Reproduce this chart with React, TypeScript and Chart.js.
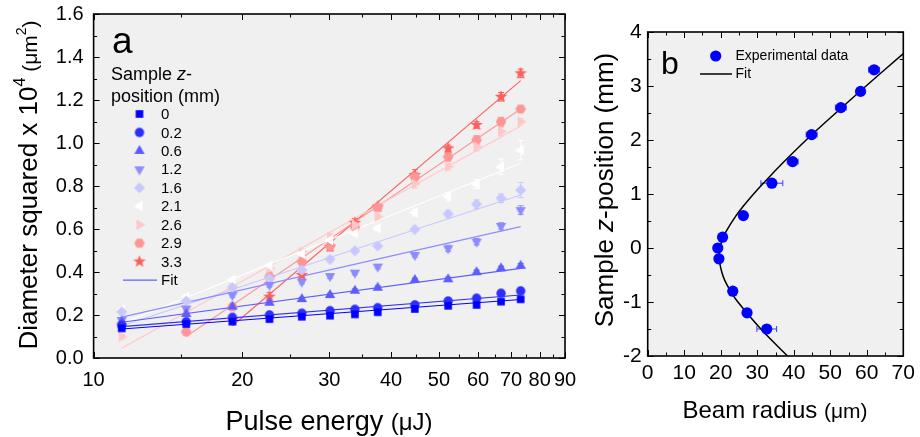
import React, { useEffect, useRef } from "react";
import { Chart, registerables } from "chart.js";
Chart.register(...registerables);

const FONT = 'Arial, "Liberation Sans", sans-serif';

// ---------- Panel a data ----------
const pulseEnergy = [11.4, 15.4, 19.1, 22.7, 26.4, 30.1, 33.8, 37.6, 44.7, 52.2, 59.6, 66.8, 73.2];
const zLabels = ["0", "0.2", "0.6", "1.2", "1.6", "2.1", "2.6", "2.9", "3.3"];
const d2_z00 = [0.138, 0.158, 0.169, 0.181, 0.192, 0.197, 0.203, 0.213, 0.228, 0.243, 0.247, 0.262, 0.273];
const d2_z02 = [0.152, 0.169, 0.189, 0.2, 0.208, 0.22, 0.226, 0.234, 0.247, 0.265, 0.278, 0.301, 0.312];
const d2_z06 = [0.17, 0.205, 0.239, 0.257, 0.274, 0.293, 0.313, 0.327, 0.363, 0.366, 0.399, 0.417, 0.429];
const d2_z12 = [0.177, 0.23, 0.293, 0.34, 0.355, 0.381, 0.397, 0.425, 0.479, 0.51, 0.541, 0.614, 0.688];
const d2_z16 = [0.215, 0.265, 0.328, 0.37, 0.409, 0.459, 0.499, 0.521, 0.598, 0.67, 0.715, 0.743, 0.781];
const d2_z21 = [0.225, 0.285, 0.363, 0.43, 0.485, 0.549, 0.58, 0.603, 0.676, 0.75, 0.809, 0.89, 0.967];
const d2_z26 = [0.099, 0.223, 0.329, 0.417, 0.494, 0.564, 0.62, 0.657, 0.81, 0.89, 0.983, 1.053, 1.099];
const d2_z29 = [null, 0.122, 0.238, 0.378, 0.448, 0.52, 0.61, 0.7, 0.843, 0.936, 1.014, 1.099, 1.158];
const d2_z33 = [null, null, 0.177, 0.285, 0.386, 0.518, 0.629, 0.704, 0.851, 0.975, 1.084, 1.215, 1.324];

const err_z00 = [0.005, 0.005, 0.005, 0.005, 0.005, 0.005, 0.005, 0.005, 0.005, 0.005, 0.005, 0.005, 0.005];
const err_z02 = [0.006, 0.006, 0.006, 0.006, 0.006, 0.006, 0.006, 0.006, 0.006, 0.006, 0.006, 0.006, 0.006];
const err_z06 = [0.008, 0.008, 0.008, 0.008, 0.008, 0.008, 0.008, 0.008, 0.008, 0.01, 0.01, 0.01, 0.01];
const err_z12 = [0.01, 0.01, 0.01, 0.01, 0.01, 0.01, 0.01, 0.01, 0.01, 0.015, 0.015, 0.015, 0.02];
const err_z16 = [0.01, 0.01, 0.01, 0.01, 0.01, 0.01, 0.01, 0.01, 0.01, 0.015, 0.02, 0.02, 0.035];
const err_z21 = [0.01, 0.01, 0.01, 0.01, 0.01, 0.01, 0.01, 0.01, 0.015, 0.02, 0.02, 0.035, 0.045];
const err_z26 = [0.01, 0.01, 0.01, 0.015, 0.015, 0.015, 0.015, 0.01, 0.02, 0.015, 0.02, 0.02, 0.015];
const err_z29 = [null, 0.01, 0.01, 0.02, 0.02, 0.02, 0.02, 0.01, 0.02, 0.02, 0.02, 0.02, 0.01];
const err_z33 = [null, null, 0.015, 0.02, 0.015, 0.02, 0.02, 0.01, 0.025, 0.015, 0.015, 0.02, 0.02];

// fit lines (straight on the log-energy axis): start/end energy and value
const fitFromEnergy = [11.4, 11.4, 11.4, 11.4, 11.4, 11.4, 11.4, 15.4, 19.1];
const fitToEnergy = [73.2, 73.2, 73.2, 73.2, 73.2, 73.2, 73.2, 73.2, 73.2];
const fitStartD2 = [0.135, 0.146, 0.166, 0.19, 0.15, 0.16, 0.045, 0.1, 0.15];
const fitEndD2 = [0.272, 0.293, 0.417, 0.611, 0.758, 0.906, 1.079, 1.158, 1.29];

const xTicksA = [10, 20, 30, 40, 50, 60, 70, 80, 90];
const xMinorA = [15, 25, 35, 45, 55, 65, 75, 85];

// ---------- Panel b data ----------
const zSample = [3.3, 2.9, 2.6, 2.1, 1.6, 1.2, 0.6, 0.2, 0, -0.2, -0.8, -1.2, -1.5];
const beamRadius = [62.0, 58.3, 52.9, 44.9, 39.7, 34.0, 26.2, 20.5, 19.2, 19.5, 23.3, 27.2, 32.6];
const beamRadiusErr = [1.5, 1.0, 1.5, 1.5, 1.5, 3.0, 0.5, 0.5, 0.5, 0.5, 0.5, 0.5, 2.7];
const fitZ = [-2, -1.5, -1.0, -0.8, -0.6, -0.45, -0.3, -0.16, 0, 0.15, 0.3, 0.6, 0.8, 1.0, 1.25, 1.5, 2.0, 2.5, 3.0, 3.6];
const fitRadius = [38.3, 31.0, 24.7, 22.7, 21.1, 20.3, 19.8, 19.6, 19.8, 20.4, 21.4, 24.2, 26.5, 29.0, 32.4, 35.9, 43.4, 51.5, 59.8, 70.0];

// ---------- styles ----------
const seriesColors = ["#0000ff", "#2e2eff", "#5c5cff", "#8c8cff", "#c8c8ff", "#ffffff", "#ffc8c8", "#ff9696", "#ff5e5e"];
const seriesShapes = ["square", "circle", "triUp", "triDown", "diamond", "triLeft", "triRight", "hexagon", "star"];
const PLOT_BG = "#f0f0f0";

function makeMarker(shape: string, color: string): HTMLCanvasElement {
  const s = 16;
  const c = document.createElement("canvas");
  c.width = s;
  c.height = s;
  const g = c.getContext("2d")!;
  const m = s / 2;
  g.fillStyle = color;
  g.beginPath();
  const poly = (pts: number[][]) => {
    pts.forEach(([x, y], i) => (i ? g.lineTo(m + x, m + y) : g.moveTo(m + x, m + y)));
    g.closePath();
  };
  const reg = (n: number, r: number, a0: number) =>
    Array.from({ length: n }, (_, i) => [r * Math.cos(a0 + (i * 2 * Math.PI) / n), r * Math.sin(a0 + (i * 2 * Math.PI) / n)]);
  switch (shape) {
    case "square":
      g.rect(m - 3.8, m - 3.8, 7.6, 7.6);
      break;
    case "circle":
      g.arc(m, m, 4.7, 0, 2 * Math.PI);
      break;
    case "triUp":
      poly(reg(3, 6, -Math.PI / 2));
      break;
    case "triDown":
      poly(reg(3, 6, Math.PI / 2));
      break;
    case "triLeft":
      poly(reg(3, 6, Math.PI));
      break;
    case "triRight":
      poly(reg(3, 6, 0));
      break;
    case "diamond":
      poly(reg(4, 5.6, -Math.PI / 2));
      break;
    case "hexagon":
      poly(reg(6, 5.3, 0));
      break;
    case "star": {
      const pts: number[][] = [];
      for (let i = 0; i < 10; i++) {
        const r = i % 2 === 0 ? 6.6 : 2.8;
        const a = -Math.PI / 2 + (i * Math.PI) / 5;
        pts.push([r * Math.cos(a), r * Math.sin(a)]);
      }
      poly(pts);
      break;
    }
  }
  g.fill();
  return c;
}

type Part = { t: string; size: number; italic?: boolean; dy?: number };

function drawRich(ctx: CanvasRenderingContext2D, parts: Part[], cx: number, cy: number, rotate: boolean) {
  ctx.save();
  let total = 0;
  const widths = parts.map((p) => {
    ctx.font = `${p.italic ? "italic " : ""}${p.size}px ${FONT}`;
    const w = ctx.measureText(p.t).width;
    total += w;
    return w;
  });
  ctx.translate(cx, cy);
  if (rotate) ctx.rotate(-Math.PI / 2);
  ctx.fillStyle = "#000";
  ctx.textBaseline = "alphabetic";
  ctx.textAlign = "left";
  let x = -total / 2;
  parts.forEach((p, i) => {
    ctx.font = `${p.italic ? "italic " : ""}${p.size}px ${FONT}`;
    ctx.fillText(p.t, x, p.dy || 0);
    x += widths[i];
  });
  ctx.restore();
}

function drawFrame(chart: any, xMajor: number[], xMinor: number[], yMajor: number[], yMinor: number[]) {
  const { ctx, chartArea } = chart;
  const { left, right, top, bottom } = chartArea;
  const xs = chart.scales.x;
  const ys = chart.scales.y;
  ctx.save();
  ctx.strokeStyle = "#000";
  ctx.lineWidth = 1;
  ctx.beginPath();
  const tick = (v: number, len: number, horiz: boolean) => {
    if (horiz) {
      const p = Math.round(xs.getPixelForValue(v)) + 0.5;
      ctx.moveTo(p, bottom);
      ctx.lineTo(p, bottom - len);
      ctx.moveTo(p, top);
      ctx.lineTo(p, top + len);
    } else {
      const p = Math.round(ys.getPixelForValue(v)) + 0.5;
      ctx.moveTo(left, p);
      ctx.lineTo(left + len, p);
      ctx.moveTo(right, p);
      ctx.lineTo(right - len, p);
    }
  };
  xMajor.forEach((v) => tick(v, 6, true));
  xMinor.forEach((v) => tick(v, 3.5, true));
  yMajor.forEach((v) => tick(v, 6, false));
  yMinor.forEach((v) => tick(v, 3.5, false));
  ctx.stroke();
  ctx.lineWidth = 1.6;
  ctx.strokeRect(left, top, right - left, bottom - top);
  ctx.restore();
}

function drawErrorBars(chart: any, vertical: boolean, capColor?: string) {
  const ctx = chart.ctx;
  ctx.save();
  ctx.lineWidth = 1;
  chart.data.datasets.forEach((ds: any, di: number) => {
    if (!ds.hasErr) return;
    const meta = chart.getDatasetMeta(di);
    ctx.strokeStyle = capColor || ds.errColor;
    ctx.beginPath();
    ds.data.forEach((pt: any, i: number) => {
      const el = meta.data[i];
      if (!el || pt.e == null) return;
      if (vertical) {
        const y1 = chart.scales.y.getPixelForValue(pt.y - pt.e);
        const y2 = chart.scales.y.getPixelForValue(pt.y + pt.e);
        ctx.moveTo(el.x, y1);
        ctx.lineTo(el.x, y2);
        ctx.moveTo(el.x - 3, y1);
        ctx.lineTo(el.x + 3, y1);
        ctx.moveTo(el.x - 3, y2);
        ctx.lineTo(el.x + 3, y2);
      } else {
        const x1 = chart.scales.x.getPixelForValue(pt.x - pt.e);
        const x2 = chart.scales.x.getPixelForValue(pt.x + pt.e);
        ctx.moveTo(x1, el.y);
        ctx.lineTo(x2, el.y);
        ctx.moveTo(x1, el.y - 3);
        ctx.lineTo(x1, el.y + 3);
        ctx.moveTo(x2, el.y - 3);
        ctx.lineTo(x2, el.y + 3);
      }
    });
    ctx.stroke();
  });
  ctx.restore();
}

const range = (a: number, b: number, step: number) => {
  const out: number[] = [];
  for (let v = a; v <= b + 1e-9; v += step) out.push(Math.round(v * 1000) / 1000);
  return out;
};

function PanelA() {
  const ref = useRef<HTMLCanvasElement>(null);
  useEffect(() => {
    const seriesVals = [d2_z00, d2_z02, d2_z06, d2_z12, d2_z16, d2_z21, d2_z26, d2_z29, d2_z33];
    const seriesErr = [err_z00, err_z02, err_z06, err_z12, err_z16, err_z21, err_z26, err_z29, err_z33];
    const markers = seriesShapes.map((s, i) => makeMarker(s, seriesColors[i]));
    const pointSets = seriesVals.map((vals, si) => ({
      label: zLabels[si],
      data: pulseEnergy
        .map((e, i) => ({ x: e, y: vals[i], e: seriesErr[si][i] }))
        .filter((p) => p.y != null),
      pointStyle: markers[si],
      pointRadius: 6,
      pointBorderWidth: 0,
      backgroundColor: seriesColors[si],
      borderColor: seriesColors[si],
      showLine: false,
      hasErr: true,
      errColor: seriesColors[si],
      order: 0,
    }));
    const fitSets = zLabels.map((lab, si) => ({
      label: "Fit " + lab,
      data: [
        { x: fitFromEnergy[si], y: fitStartD2[si] },
        { x: fitToEnergy[si], y: fitEndD2[si] },
      ],
      showLine: true,
      pointRadius: 0,
      borderWidth: 1.1,
      borderColor: seriesColors[si],
      backgroundColor: seriesColors[si],
      order: 1,
    }));
    const yMajor = range(0, 1.6, 0.2);
    const yMinor = range(0.1, 1.5, 0.2);
    const plugin = {
      id: "panelA",
      beforeDraw(chart: any) {
        const { ctx, chartArea: a } = chart;
        ctx.save();
        ctx.fillStyle = PLOT_BG;
        ctx.fillRect(a.left, a.top, a.right - a.left, a.bottom - a.top);
        ctx.restore();
      },
      beforeDatasetsDraw(chart: any) {
        const a = chart.chartArea;
        chart.ctx.save();
        chart.ctx.beginPath();
        chart.ctx.rect(a.left, a.top, a.right - a.left, a.bottom - a.top);
        chart.ctx.clip();
        drawErrorBars(chart, true);
        chart.ctx.restore();
      },
      afterDatasetsDraw(chart: any) {
        drawFrame(chart, xTicksA, xMinorA, yMajor, yMinor);
      },
      afterDraw(chart: any) {
        const ctx = chart.ctx;
        ctx.save();
        ctx.fillStyle = "#000";
        ctx.textAlign = "left";
        ctx.textBaseline = "alphabetic";
        ctx.font = `37px ${FONT}`;
        ctx.fillText("a", 112, 53);
        // legend title
        ctx.font = `18px ${FONT}`;
        let x = 111;
        ctx.fillText("Sample ", x, 80);
        x += ctx.measureText("Sample ").width;
        ctx.font = `italic 18px ${FONT}`;
        ctx.fillText("z", x, 80);
        x += ctx.measureText("z").width;
        ctx.font = `18px ${FONT}`;
        ctx.fillText("-", x, 80);
        ctx.fillText("position (mm)", 111, 102);
        // entries
        ctx.font = `15px ${FONT}`;
        ctx.textBaseline = "middle";
        zLabels.forEach((lab, i) => {
          const cy = 114 + i * 18.45;
          const mk = markers[i];
          ctx.drawImage(mk, 139.5 - mk.width / 2, cy - mk.height / 2);
          ctx.fillText(lab, 161, cy + 1);
        });
        const fy = 114 + 9 * 18.45;
        ctx.strokeStyle = "#6060ff";
        ctx.lineWidth = 1.2;
        ctx.beginPath();
        ctx.moveTo(123, fy);
        ctx.lineTo(157, fy);
        ctx.stroke();
        ctx.fillText("Fit", 161, fy + 1);
        ctx.restore();
        // axis titles
        drawRich(
          ctx,
          [
            { t: "Pulse energy ", size: 27 },
            { t: "(\u03bcJ)", size: 24 },
          ],
          329,
          430,
          false
        );
        drawRich(
          ctx,
          [
            { t: "Diameter squared x 10", size: 26 },
            { t: "4", size: 16, dy: -12 },
            { t: " (\u03bcm", size: 21 },
            { t: "2", size: 14, dy: -11 },
            { t: ")", size: 21 },
          ],
          37,
          185,
          true
        );
      },
    };
    const chart = new Chart(ref.current!, {
      type: "scatter",
      data: { datasets: [...pointSets, ...fitSets] as any },
      options: {
        animation: false,
        responsive: false,
        events: [],
        layout: { padding: { left: 0, right: 20, top: 14, bottom: 0 } },
        plugins: { legend: { display: false }, tooltip: { enabled: false } },
        scales: {
          x: {
            type: "logarithmic",
            min: 10,
            max: 90,
            grid: { display: false, drawTicks: false },
            border: { display: false },
            afterBuildTicks: (s: any) => {
              s.ticks = xTicksA.map((v) => ({ value: v }));
            },
            afterFit: (s: any) => {
              s.height = 79;
              s.paddingLeft = 0;
              s.paddingRight = 0;
            },
            ticks: {
              autoSkip: false,
              maxRotation: 0,
              padding: 10,
              color: "#000",
              font: { family: FONT, size: 20 },
              callback: (v: any) => String(v),
            },
          },
          y: {
            type: "linear",
            min: 0,
            max: 1.6,
            grid: { display: false, drawTicks: false },
            border: { display: false },
            afterFit: (s: any) => {
              s.width = 93.6;
              s.paddingTop = 0;
              s.paddingBottom = 0;
            },
            ticks: {
              stepSize: 0.2,
              padding: 10,
              color: "#000",
              font: { family: FONT, size: 20 },
              callback: (v: any) => Number(v).toFixed(1),
            },
          },
        },
      },
      plugins: [plugin],
    });
    return () => chart.destroy();
  }, []);
  return <canvas ref={ref} width={585} height={437} style={{ position: "absolute", left: 0, top: 0, width: 585, height: 437 }} />;
}

function PanelB() {
  const ref = useRef<HTMLCanvasElement>(null);
  useEffect(() => {
    const xMajor = range(0, 70, 10);
    const xMinor = range(5, 65, 10);
    const yMajor = range(-2, 4, 1);
    const yMinor = range(-1.5, 3.5, 1);
    const plugin = {
      id: "panelB",
      beforeDraw(chart: any) {
        const { ctx, chartArea: a } = chart;
        ctx.save();
        ctx.fillStyle = PLOT_BG;
        ctx.fillRect(a.left, a.top, a.right - a.left, a.bottom - a.top);
        ctx.restore();
      },
      beforeDatasetsDraw(chart: any) {
        drawErrorBars(chart, false, "#3a3aff");
      },
      afterDatasetsDraw(chart: any) {
        drawFrame(chart, xMajor, xMinor, yMajor, yMinor);
      },
      afterDraw(chart: any) {
        const ctx = chart.ctx;
        ctx.save();
        ctx.fillStyle = "#000";
        ctx.textAlign = "left";
        ctx.textBaseline = "alphabetic";
        ctx.font = `32px ${FONT}`;
        ctx.fillText("b", 76, 74);
        // legend
        ctx.fillStyle = "#0000ff";
        ctx.beginPath();
        ctx.arc(130.7, 56, 5.6, 0, Math.PI * 2);
        ctx.fill();
        ctx.fillStyle = "#000";
        ctx.font = `14px ${FONT}`;
        ctx.textBaseline = "middle";
        ctx.fillText("Experimental data", 150.5, 56.5);
        ctx.strokeStyle = "#000";
        ctx.lineWidth = 1.5;
        ctx.beginPath();
        ctx.moveTo(115, 74);
        ctx.lineTo(147, 74);
        ctx.stroke();
        ctx.fillText("Fit", 150.5, 74.5);
        ctx.restore();
        drawRich(
          ctx,
          [
            { t: "Beam radius ", size: 24 },
            { t: "(\u03bcm)", size: 21 },
          ],
          190,
          418,
          false
        );
        drawRich(
          ctx,
          [
            { t: "Sample ", size: 26 },
            { t: "z", size: 26, italic: true },
            { t: "-position (mm)", size: 26 },
          ],
          28,
          190,
          true
        );
      },
    };
    const chart = new Chart(ref.current!, {
      type: "scatter",
      data: {
        datasets: [
          {
            label: "Experimental data",
            data: zSample.map((z, i) => ({ x: beamRadius[i], y: z, e: beamRadiusErr[i] })),
            pointStyle: "circle",
            pointRadius: 5.6,
            pointBorderWidth: 0,
            backgroundColor: "#0000ff",
            borderColor: "#0000ff",
            showLine: false,
            hasErr: true,
            order: 0,
          } as any,
          {
            label: "Fit",
            data: fitZ.map((z, i) => ({ x: fitRadius[i], y: z })),
            showLine: true,
            tension: 0.4,
            pointRadius: 0,
            borderWidth: 1.5,
            borderColor: "#000",
            backgroundColor: "#000",
            order: 1,
          } as any,
        ],
      },
      options: {
        animation: false,
        responsive: false,
        events: [],
        layout: { padding: { left: 0, right: 16.7, top: 32, bottom: 0 } },
        plugins: { legend: { display: false }, tooltip: { enabled: false } },
        scales: {
          x: {
            type: "linear",
            min: 0,
            max: 70,
            grid: { display: false, drawTicks: false },
            border: { display: false },
            afterFit: (s: any) => {
              s.height = 81;
              s.paddingLeft = 0;
              s.paddingRight = 0;
            },
            ticks: {
              stepSize: 10,
              padding: 5,
              color: "#000",
              font: { family: FONT, size: 21 },
            },
          },
          y: {
            type: "linear",
            min: -2,
            max: 4,
            grid: { display: false, drawTicks: false },
            border: { display: false },
            afterFit: (s: any) => {
              s.width = 62.7;
              s.paddingTop = 0;
              s.paddingBottom = 0;
            },
            ticks: {
              stepSize: 1,
              padding: 6,
              color: "#000",
              font: { family: FONT, size: 21 },
            },
          },
        },
      },
      plugins: [plugin],
    });
    return () => chart.destroy();
  }, []);
  return <canvas ref={ref} width={335} height={437} style={{ position: "absolute", left: 585, top: 0, width: 335, height: 437 }} />;
}

export default function App() {
  return (
    <div style={{ position: "absolute", left: 0, top: 0, width: 920, height: 437, background: "#fff", overflow: "hidden" }}>
      <PanelA />
      <PanelB />
    </div>
  );
}
